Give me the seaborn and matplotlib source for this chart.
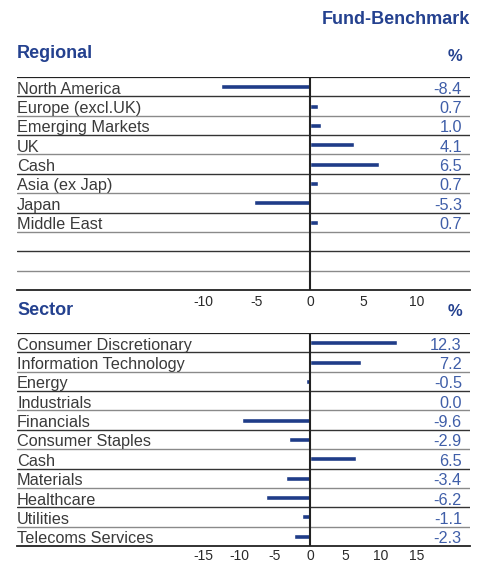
import matplotlib
matplotlib.use("Agg")
import matplotlib.pyplot as plt
import seaborn as sns
import pandas as pd

regions = ["North America", "Europe (excl.UK)", "Emerging Markets", "UK", "Cash",
           "Asia (ex Jap)", "Japan", "Middle East"]
region_vals = [-8.4, 0.7, 1.0, 4.1, 6.5, 0.7, -5.3, 0.7]

sectors = ["Consumer Discretionary", "Information Technology", "Energy", "Industrials",
           "Financials", "Consumer Staples", "Cash", "Materials", "Healthcare",
           "Utilities", "Telecoms Services"]
sector_vals = [12.3, 7.2, -0.5, 0.0, -9.6, -2.9, 6.5, -3.4, -6.2, -1.1, -2.3]

top_ticks = [-10, -5, 0, 5, 10]
bot_ticks = [-15, -10, -5, 0, 5, 10, 15]

sns.set_theme(style="white")
plt.rcParams['font.family'] = ['Liberation Sans', 'DejaVu Sans']

NAVY = "#1f3c88"
VALC = "#3f5ea8"
HEAD = "#24418f"
TXT = "#3a3a3a"

W, H = 486, 562
fig = plt.figure(figsize=(W / 100, H / 100), dpi=100)


def px_rect(x0, y0, x1, y1):
    return [x0 / W, 1 - y1 / H, (x1 - x0) / W, (y1 - y0) / H]


def panel(rect, cats, vals, xlim, ticks, pad):
    ax = fig.add_axes(rect)
    df = pd.DataFrame({"cat": cats, "val": vals})
    sns.barplot(data=df, x="val", y="cat", order=cats, orient="h", color=NAVY,
                width=0.26, saturation=1, ax=ax)
    ax.set_xlim(*xlim)
    ax.set_ylim(10.5, -0.5)
    ax.set_yticks([])
    ax.set_xlabel("")
    ax.set_ylabel("")
    for s in ["top", "left", "right"]:
        ax.spines[s].set_visible(False)
    ax.spines["bottom"].set_color("#222222")
    ax.spines["bottom"].set_linewidth(1.3)
    ax.set_xticks(ticks)
    ax.set_xticklabels([str(t) for t in ticks], fontsize=10, color="#2a2a2a")
    ax.tick_params(axis="x", direction="in", length=3, width=1, color="#444444", pad=pad)
    ax.axhline(-0.5, color="#222222", lw=1.6, zorder=1)
    for i in range(10):
        ax.axhline(i + 0.5, color="#333333" if i % 2 == 0 else "#8a8a8a", lw=1.0, zorder=1)
    ax.axvline(0, color="#222222", lw=1.5, zorder=3)
    for i, (c, v) in enumerate(zip(cats, vals)):
        ax.text(0.0, i + 0.36, c, transform=ax.get_yaxis_transform(), ha="left",
                va="baseline", fontsize=11.7, color=TXT)
        ax.text(0.982, i + 0.36, f"{v:.1f}", transform=ax.get_yaxis_transform(),
                ha="right", va="baseline", fontsize=11.7, color=VALC)
    return ax


panel(px_rect(17, 77, 470, 290), regions, region_vals, (-27.5, 15.0), top_ticks, 3.5)
panel(px_rect(17, 333, 470, 546), sectors, sector_vals, (-41.2, 22.5), bot_ticks, 2.0)

hf = dict(color=HEAD, fontweight="bold")
fig.text(470 / W, 1 - 24 / H, "Fund-Benchmark", ha="right", va="baseline", fontsize=13, **hf)
fig.text(17 / W, 1 - 58 / H, "Regional", ha="left", va="baseline", fontsize=13, **hf)
fig.text(462 / W, 1 - 61 / H, "%", ha="right", va="baseline", fontsize=12, **hf)
fig.text(17 / W, 1 - 315 / H, "Sector", ha="left", va="baseline", fontsize=13, **hf)
fig.text(462 / W, 1 - 316 / H, "%", ha="right", va="baseline", fontsize=12, **hf)

fig.savefig("out.png", dpi=100)
